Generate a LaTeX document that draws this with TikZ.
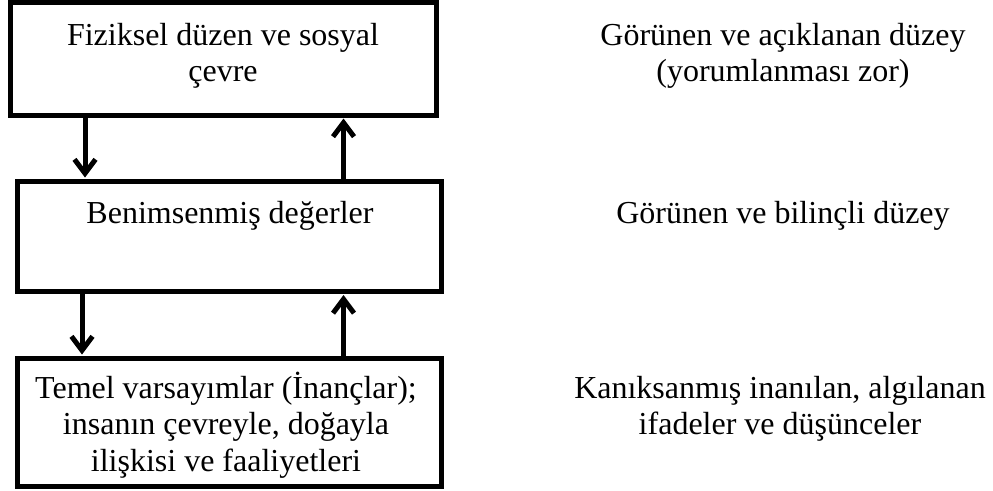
\documentclass[tikz,border=0pt]{standalone}
\usepackage{fontspec}
\setmainfont{Liberation Serif}
\usetikzlibrary{arrows.meta}
\newcommand{\fl}{\rule{0pt}{30pt}}
\begin{document}
\begin{tikzpicture}[x=1pt,y=-1pt,
  boxnode/.style={draw=black,line width=5pt,fill=none,inner sep=0pt,minimum width=#1},
  txt/.style={font=\fontsize{32}{36.5}\selectfont,align=center,inner sep=0pt,anchor=north},
  arr/.style={line width=5pt,-{Straight Barb[length=14pt,width=21pt,line width=5pt]},shorten >=1pt}
]
\useasboundingbox (0,0) rectangle (993,490);
% boxes
\node[boxnode=425.5pt,minimum height=112.5pt] (b1) at (223.25,58.75) {};
\node[boxnode=423.5pt,minimum height=110.5pt] (b2) at (229.25,236.25) {};
\node[boxnode=424pt,minimum height=128pt] (b3) at (229,422) {};
% box texts
\node[txt] (t1) at (223,15) {\fl Fiziksel düzen ve sosyal\\çevre};
\node[txt] (t2) at (230,193) {\fl Benimsenmiş değerler};
\node[txt] (t3) at (226,368) {\fl Temel varsayımlar (İnançlar);\\insanın çevreyle, doğayla\\ilişkisi ve faaliyetleri};
% right texts
\node[txt] (r1) at (783,15) {\fl Görünen ve açıklanan düzey\\(yorumlanması zor)};
\node[txt] (r2) at (783,193) {\fl Görünen ve bilinçli düzey};
\node[txt] (r3) at (780,368) {\fl Kanıksanmış inanılan, algılanan\\ifadeler ve düşünceler};
% arrow x positions
\coordinate (xa) at (85,0);
\coordinate (xb) at (82,0);
\coordinate (xc) at (343.5,0);
% arrows
\draw[arr] (b1.south -| xa) -- (b2.north -| xa);
\draw[arr] (b2.north -| xc) -- (b1.south -| xc);
\draw[arr] (b2.south -| xb) -- (b3.north -| xb);
\draw[arr] (b3.north -| xc) -- (b2.south -| xc);
\end{tikzpicture}
\end{document}
